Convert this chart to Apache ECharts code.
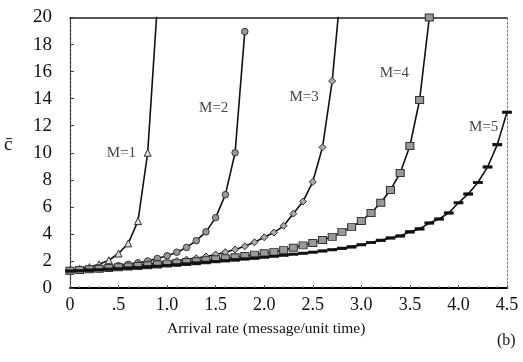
<!DOCTYPE html>
<html>
<head>
<meta charset="utf-8">
<script src="https://cdn.jsdelivr.net/npm/echarts@6/dist/echarts.min.js"></script>
<style>html,body{margin:0;padding:0;background:#fff}#c{width:523px;height:362px}</style>
</head>
<body>
<div id="c"></div>
<script>
// Data
var xTicks = [0, 0.5, 1.0, 1.5, 2.0, 2.5, 3.0, 3.5, 4.0, 4.5];
var yTicks = [0, 2, 4, 6, 8, 10, 12, 14, 16, 18, 20];

var m1X = [0, 0.1, 0.2, 0.3, 0.4, 0.5, 0.6, 0.7, 0.8, 0.9];
var m1Y = [1.3, 1.42, 1.55, 1.75, 2.05, 2.55, 3.3, 4.95, 10, 21];

var m2X = [0, 0.1, 0.2, 0.3, 0.4, 0.5, 0.6, 0.7, 0.8, 0.9, 1.0, 1.1, 1.2, 1.3, 1.4, 1.5, 1.6, 1.7, 1.8];
var m2Y = [1.3, 1.36, 1.42, 1.49, 1.56, 1.65, 1.75, 1.86, 2.0, 2.18, 2.38, 2.65, 3.0, 3.5, 4.15, 5.2, 6.9, 10, 18.96];

var m3X = [0, 0.1, 0.2, 0.3, 0.4, 0.5, 0.6, 0.7, 0.8, 0.9, 1.0, 1.1, 1.2, 1.3, 1.4, 1.5, 1.6, 1.7, 1.8, 1.9, 2.0, 2.1, 2.2, 2.3, 2.4, 2.5, 2.6, 2.7, 2.8];
var m3Y = [1.3, 1.35, 1.41, 1.46, 1.51, 1.57, 1.63, 1.7, 1.77, 1.84, 1.92, 2.0, 2.1, 2.2, 2.33, 2.48, 2.65, 2.85, 3.08, 3.38, 3.75, 4.1, 4.6, 5.5, 6.4, 7.85, 10.4, 15.3, 23];

var m4X = [0, 0.1, 0.2, 0.3, 0.4, 0.5, 0.6, 0.7, 0.8, 0.9, 1.0, 1.1, 1.2, 1.3, 1.4, 1.5, 1.6, 1.7, 1.8, 1.9, 2.0, 2.1, 2.2, 2.3, 2.4, 2.5, 2.6, 2.7, 2.8, 2.9, 3.0, 3.1, 3.2, 3.3, 3.4, 3.5, 3.6, 3.7];
var m4Y = [1.28, 1.33, 1.38, 1.43, 1.48, 1.53, 1.58, 1.63, 1.68, 1.74, 1.8, 1.86, 1.92, 1.98, 2.05, 2.12, 2.2, 2.28, 2.37, 2.47, 2.57, 2.67, 2.8, 2.98, 3.15, 3.33, 3.55, 3.78, 4.15, 4.5, 4.96, 5.55, 6.3, 7.25, 8.5, 10.5, 13.9, 20];

var m5X = [0, 0.1, 0.2, 0.3, 0.4, 0.5, 0.6, 0.7, 0.8, 0.9, 1.0, 1.1, 1.2, 1.3, 1.4, 1.5, 1.6, 1.7, 1.8, 1.9, 2.0, 2.1, 2.2, 2.3, 2.4, 2.5, 2.6, 2.7, 2.8, 2.9, 3.0, 3.1, 3.2, 3.3, 3.4, 3.5, 3.6, 3.7, 3.8, 3.9, 4.0, 4.1, 4.2, 4.3, 4.4, 4.5];
var m5Y = [1.25, 1.28, 1.32, 1.35, 1.39, 1.43, 1.47, 1.51, 1.56, 1.61, 1.67, 1.72, 1.78, 1.84, 1.9, 1.96, 2.02, 2.08, 2.15, 2.21, 2.28, 2.35, 2.42, 2.5, 2.57, 2.65, 2.74, 2.83, 2.93, 3.04, 3.2, 3.36, 3.52, 3.7, 3.85, 4.15, 4.37, 4.8, 5.1, 5.55, 6.3, 6.95, 7.8, 8.95, 10.6, 13.0];

var labelText = ['M=1', 'M=2', 'M=3', 'M=4', 'M=5'];
var labelX = [0.53, 1.48, 2.41, 3.34, 4.26];
var labelY = [10, 13.3, 14.1, 15.9, 11.9];

function pairs(xs, ys) { return xs.map(function (x, i) { return [x, ys[i]]; }); }

var serif = 'Liberation Serif';
var chart = echarts.init(document.getElementById('c'), null, {renderer: 'canvas'});

function lineSeries(name, xs, ys, symbol, size, fill, border) {
  return {
    name: name, type: 'line', data: pairs(xs, ys), clip: true,
    symbol: symbol, symbolSize: size, showAllSymbol: true,
    lineStyle: {color: '#111', width: 1.6},
    itemStyle: {color: fill, borderColor: border, borderWidth: 1},
    animation: false, z: 3
  };
}

chart.setOption({
  animation: false,
  backgroundColor: '#fff',
  grid: {left: 70, top: 17.5, right: 16, bottom: 74, show: false},
  xAxis: [{
    type: 'value', min: 0, max: 4.5, interval: 0.5, position: 'bottom',
    axisLine: {show: true, onZero: false, lineStyle: {color: '#000', width: 2}},
    axisTick: {show: true, inside: true, length: 3, lineStyle: {color: '#555'}},
    minorTick: {show: true, splitNumber: 5, length: 2, lineStyle: {color: '#777'}},
    splitLine: {show: false},
    axisLabel: {
      margin: 8, color: '#111', fontFamily: serif, fontSize: 18,
      formatter: function (v) { return v === 0 ? '0' : (v === 0.5 ? '.5' : v.toFixed(1)); }
    }
  }, {
    type: 'value', min: 0, max: 4.5, position: 'top',
    axisLine: {show: true, onZero: false, lineStyle: {color: '#222', width: 1.5}},
    axisTick: {show: false}, axisLabel: {show: false}, splitLine: {show: false}
  }],
  yAxis: [{
    type: 'value', min: 0, max: 20, interval: 2, position: 'left',
    axisLine: {show: true, onZero: false, lineStyle: {color: '#333', width: 1.2, type: [3, 1]}},
    axisTick: {show: true, inside: true, length: 4, lineStyle: {color: '#444'}},
    splitLine: {show: false},
    axisLabel: {margin: 18, color: '#111', fontFamily: serif, fontSize: 19}
  }, {
    type: 'value', min: 0, max: 20, position: 'right',
    axisLine: {show: true, onZero: false, lineStyle: {color: '#777', width: 1, type: [2, 2]}},
    axisTick: {show: false}, axisLabel: {show: false}, splitLine: {show: false}
  }],
  series: [
    lineSeries('M=1', m1X, m1Y, 'triangle', 7, '#ddd', '#333'),
    lineSeries('M=2', m2X, m2Y, 'circle', 6.5, '#999', '#333'),
    lineSeries('M=3', m3X, m3Y, 'diamond', 7, '#aaa', '#333'),
    lineSeries('M=4', m4X, m4Y, 'rect', [8, 7], '#999', '#333'),
    lineSeries('M=5', m5X, m5Y, 'rect', [8, 2.5], '#111', '#111'),
    {
      type: 'scatter', symbolSize: 0, silent: true, z: 5,
      data: labelX.map(function (x, i) { return {value: [x, labelY[i]], name: labelText[i]}; }),
      label: {show: true, position: 'inside', formatter: '{b}', color: '#111', fontFamily: serif, fontSize: 15}
    }
  ],
  graphic: [
    {type: 'text', left: 4, top: 136, style: {text: 'c\u0304', font: '19px "Liberation Serif"', fill: '#111'}},
    {type: 'text', left: 167, top: 321, style: {text: 'Arrival rate (message/unit time)', font: '15.5px "Liberation Serif"', fill: '#111'}},
    {type: 'text', left: 497, top: 333, style: {text: '(b)', font: '16px "Liberation Serif"', fill: '#111'}}
  ]
});
</script>
</body>
</html>
